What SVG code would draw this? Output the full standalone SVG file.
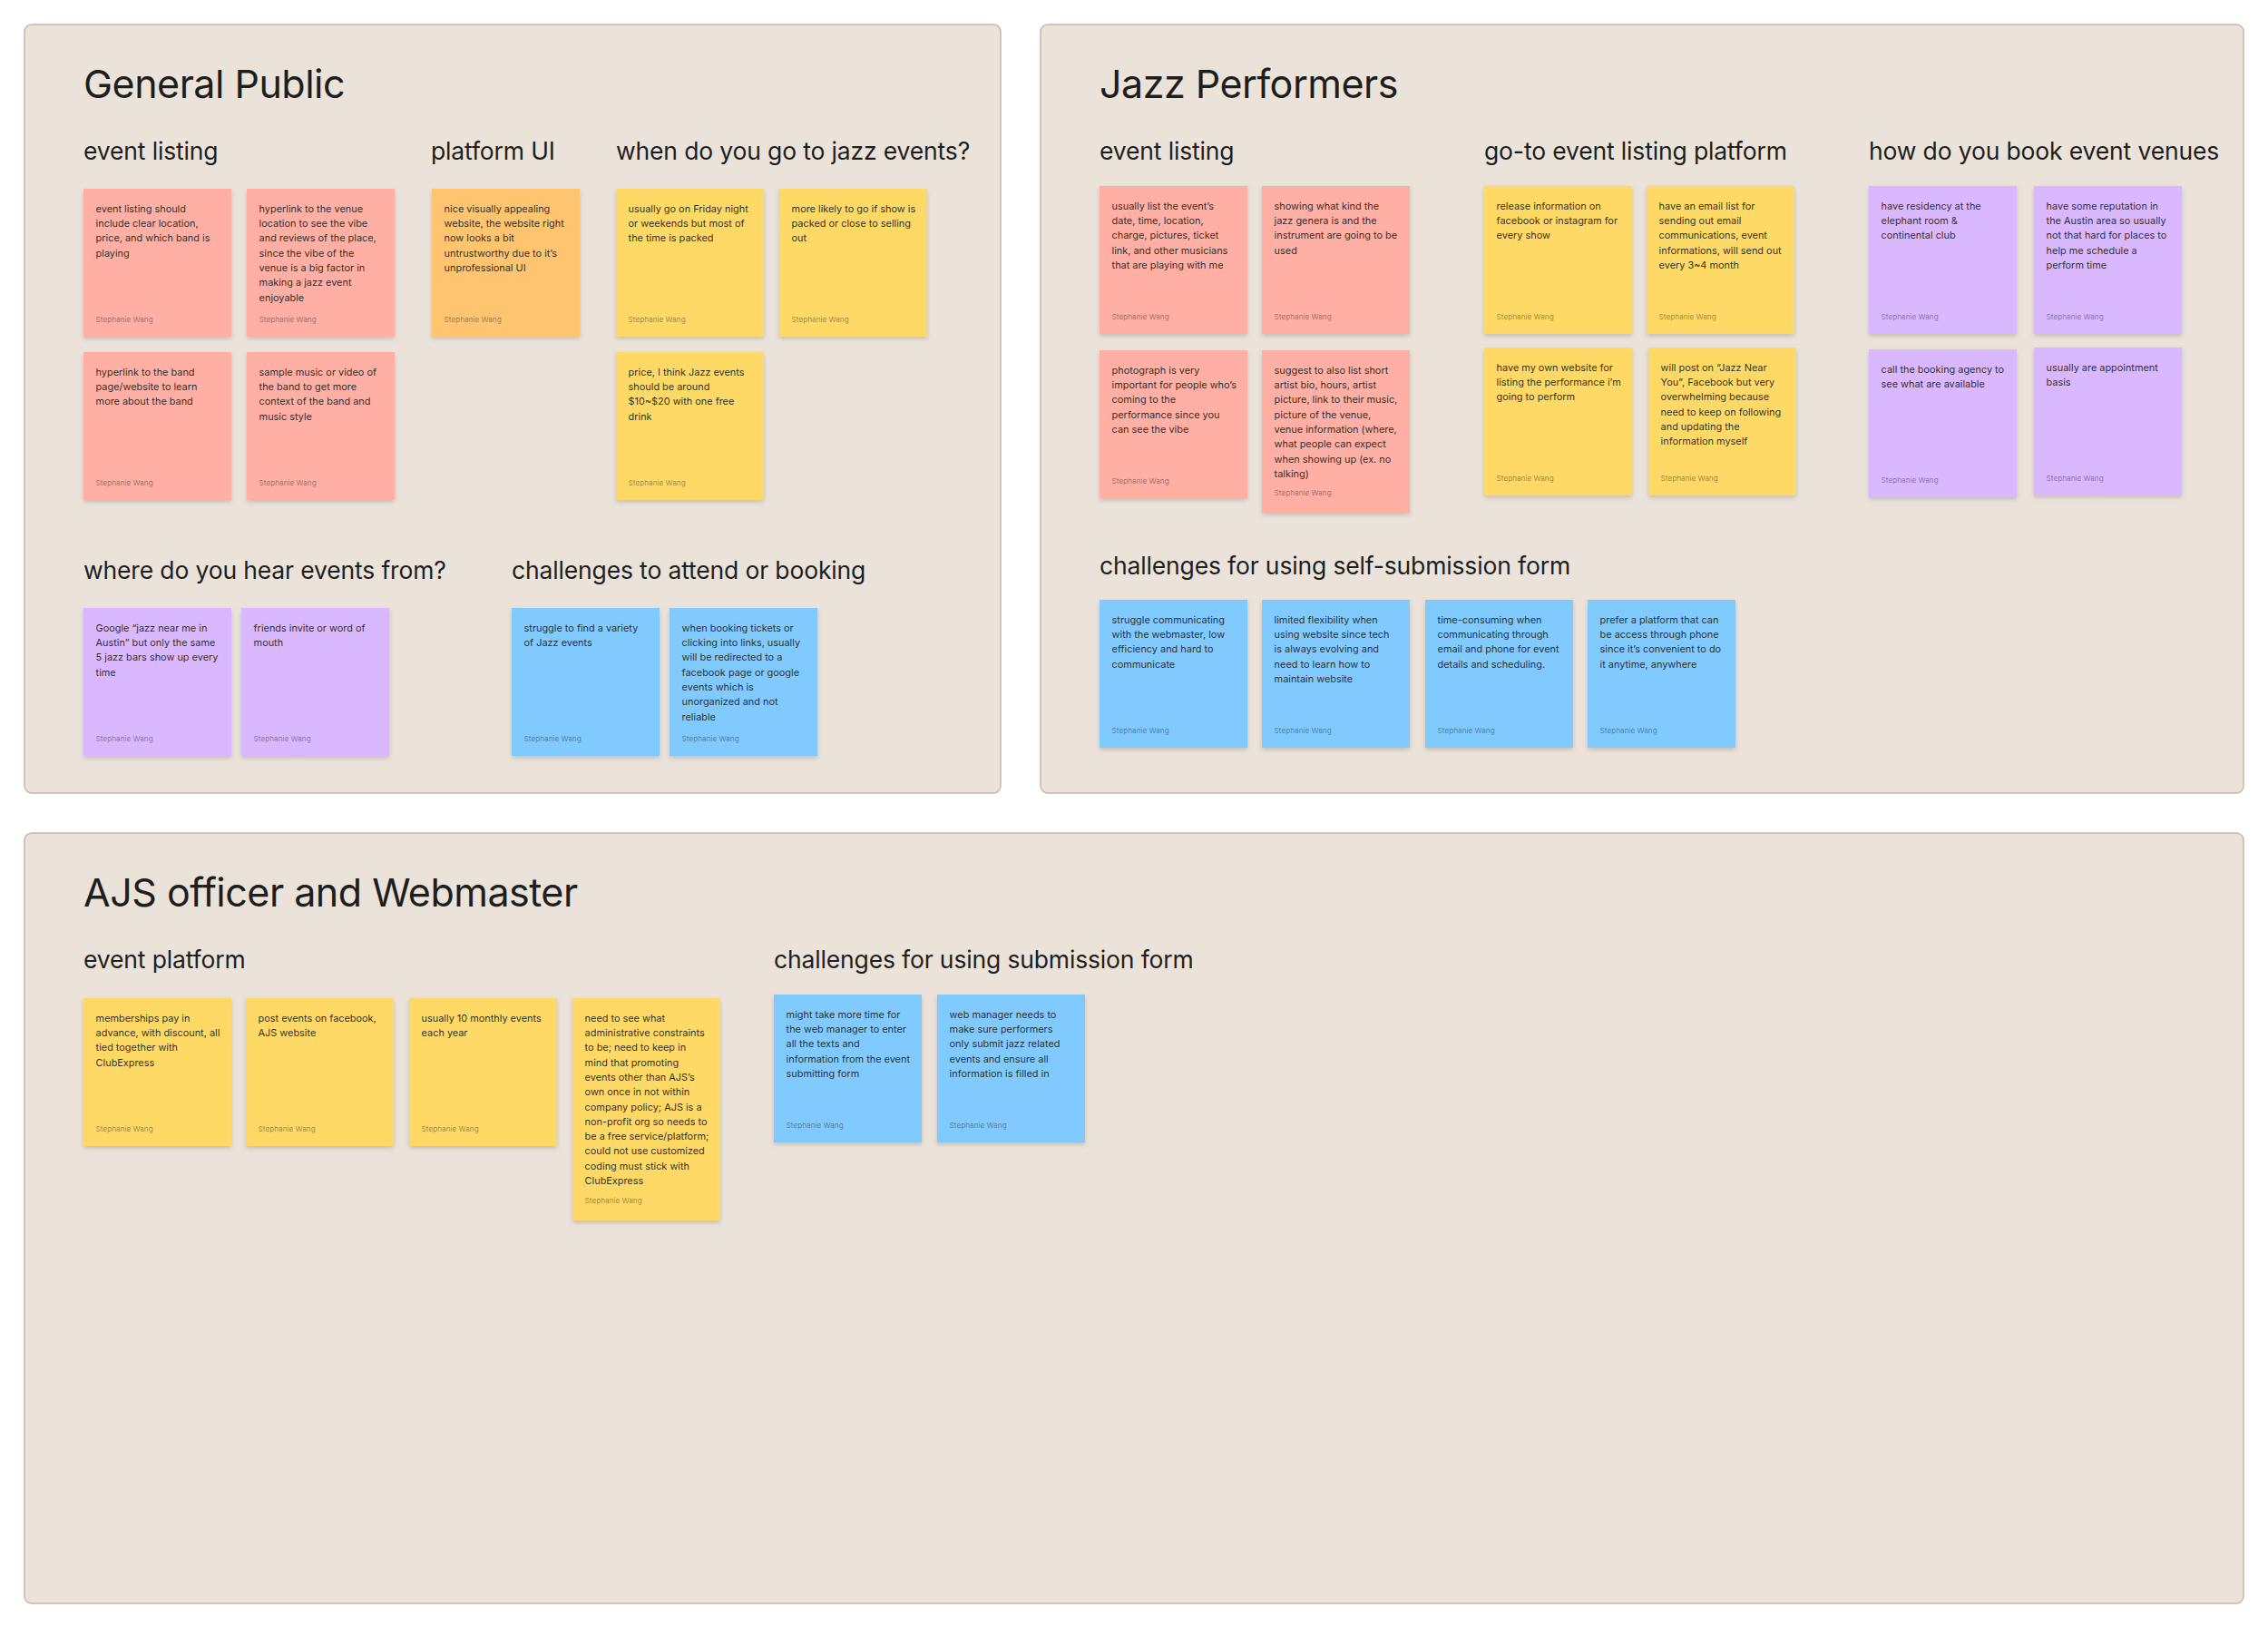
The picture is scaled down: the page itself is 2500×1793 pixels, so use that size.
<svg xmlns="http://www.w3.org/2000/svg" width="2500" height="1793" viewBox="0 0 2500 1793">
<defs>
<filter id="sh" x="-10%" y="-10%" width="120%" height="130%">
<feDropShadow dx="0" dy="2.5" stdDeviation="2.5" flood-color="#000" flood-opacity="0.16"/>
</filter>
<style>
.frame{fill:#EBE3DA;stroke:#C9B7A2;stroke-width:1.5}
text{font-family:Inter,"Noto Sans","Liberation Sans",sans-serif}
.title{font-size:43px;letter-spacing:-0.5px;fill:#1E1E1E}
.sub{font-size:26.5px;letter-spacing:-0.15px;fill:#1E1E1E}
.s{filter:url(#sh)}
.red{fill:#FFAFA3}.org{fill:#FFC470}.yel{fill:#FFD966}.pur{fill:#D9B8FF}.blu{fill:#80CAFF}
.t{font-size:10.9px;fill:#1E1E1E;fill-opacity:0.95}
.au{font-size:8.2px;fill:#000;fill-opacity:0.4}
</style>
</defs>
<rect width="2500" height="1793" fill="#FFFFFF"/>

<g id="section-general-public">
<rect class="frame" x="27" y="27" width="1076" height="847" rx="8"/>
<text class="title" x="92" y="108">General Public</text>
<text class="sub" x="92" y="176">event listing</text>
<text class="sub" x="475" y="176">platform UI</text>
<text class="sub" x="679" y="176">when do you go to jazz events?</text>
<text class="sub" x="92" y="638">where do you hear events from?</text>
<text class="sub" x="564" y="638">challenges to attend or booking</text>

<g id="gp-el-1" transform="translate(92,208)"><rect class="s red" width="163" height="163"/>
<text class="t" y="25.7"><tspan x="13.6">event listing should</tspan><tspan x="13.6" dy="16.3">include clear location,</tspan><tspan x="13.6" dy="16.3">price, and which band is</tspan><tspan x="13.6" dy="16.3">playing</tspan></text>
<text class="au" x="13.6" y="146.7">Stephanie Wang</text></g>
<g id="gp-el-2" transform="translate(272,208)"><rect class="s red" width="163" height="163"/>
<text class="t" y="25.7"><tspan x="13.6">hyperlink to the venue</tspan><tspan x="13.6" dy="16.3">location to see the vibe</tspan><tspan x="13.6" dy="16.3">and reviews of the place,</tspan><tspan x="13.6" dy="16.3">since the vibe of the</tspan><tspan x="13.6" dy="16.3">venue is a big factor in</tspan><tspan x="13.6" dy="16.3">making a jazz event</tspan><tspan x="13.6" dy="16.3">enjoyable</tspan></text>
<text class="au" x="13.6" y="146.7">Stephanie Wang</text></g>
<g id="gp-el-3" transform="translate(92,388)"><rect class="s red" width="163" height="163"/>
<text class="t" y="25.7"><tspan x="13.6">hyperlink to the band</tspan><tspan x="13.6" dy="16.3">page/website to learn</tspan><tspan x="13.6" dy="16.3">more about the band</tspan></text>
<text class="au" x="13.6" y="146.7">Stephanie Wang</text></g>
<g id="gp-el-4" transform="translate(272,388)"><rect class="s red" width="163" height="163"/>
<text class="t" y="25.7"><tspan x="13.6">sample music or video of</tspan><tspan x="13.6" dy="16.3">the band to get more</tspan><tspan x="13.6" dy="16.3">context of the band and</tspan><tspan x="13.6" dy="16.3">music style</tspan></text>
<text class="au" x="13.6" y="146.7">Stephanie Wang</text></g>

<g id="gp-ui-1" transform="translate(476,208)"><rect class="s org" width="163" height="163"/>
<text class="t" y="25.7"><tspan x="13.6">nice visually appealing</tspan><tspan x="13.6" dy="16.3">website, the website right</tspan><tspan x="13.6" dy="16.3">now looks a bit</tspan><tspan x="13.6" dy="16.3">untrustworthy due to it’s</tspan><tspan x="13.6" dy="16.3">unprofessional UI</tspan></text>
<text class="au" x="13.6" y="146.7">Stephanie Wang</text></g>

<g id="gp-when-1" transform="translate(679,208)"><rect class="s yel" width="163" height="163"/>
<text class="t" y="25.7"><tspan x="13.6">usually go on Friday night</tspan><tspan x="13.6" dy="16.3">or weekends but most of</tspan><tspan x="13.6" dy="16.3">the time is packed</tspan></text>
<text class="au" x="13.6" y="146.7">Stephanie Wang</text></g>
<g id="gp-when-2" transform="translate(859,208)"><rect class="s yel" width="163" height="163"/>
<text class="t" y="25.7"><tspan x="13.6">more likely to go if show is</tspan><tspan x="13.6" dy="16.3">packed or close to selling</tspan><tspan x="13.6" dy="16.3">out</tspan></text>
<text class="au" x="13.6" y="146.7">Stephanie Wang</text></g>
<g id="gp-when-3" transform="translate(679,388)"><rect class="s yel" width="163" height="163"/>
<text class="t" y="25.7"><tspan x="13.6">price, I think Jazz events</tspan><tspan x="13.6" dy="16.3">should be around</tspan><tspan x="13.6" dy="16.3">$10~$20 with one free</tspan><tspan x="13.6" dy="16.3">drink</tspan></text>
<text class="au" x="13.6" y="146.7">Stephanie Wang</text></g>

<g id="gp-where-1" transform="translate(92,670)"><rect class="s pur" width="163" height="163"/>
<text class="t" y="25.7"><tspan x="13.6">Google “jazz near me in</tspan><tspan x="13.6" dy="16.3">Austin” but only the same</tspan><tspan x="13.6" dy="16.3">5 jazz bars show up every</tspan><tspan x="13.6" dy="16.3">time</tspan></text>
<text class="au" x="13.6" y="146.7">Stephanie Wang</text></g>
<g id="gp-where-2" transform="translate(266,670)"><rect class="s pur" width="163" height="163"/>
<text class="t" y="25.7"><tspan x="13.6">friends invite or word of</tspan><tspan x="13.6" dy="16.3">mouth</tspan></text>
<text class="au" x="13.6" y="146.7">Stephanie Wang</text></g>

<g id="gp-ch-1" transform="translate(564,670)"><rect class="s blu" width="163" height="163"/>
<text class="t" y="25.7"><tspan x="13.6">struggle to find a variety</tspan><tspan x="13.6" dy="16.3">of Jazz events</tspan></text>
<text class="au" x="13.6" y="146.7">Stephanie Wang</text></g>
<g id="gp-ch-2" transform="translate(738,670)"><rect class="s blu" width="163" height="163"/>
<text class="t" y="25.7"><tspan x="13.6">when booking tickets or</tspan><tspan x="13.6" dy="16.3">clicking into links, usually</tspan><tspan x="13.6" dy="16.3">will be redirected to a</tspan><tspan x="13.6" dy="16.3">facebook page or google</tspan><tspan x="13.6" dy="16.3">events which is</tspan><tspan x="13.6" dy="16.3">unorganized and not</tspan><tspan x="13.6" dy="16.3">reliable</tspan></text>
<text class="au" x="13.6" y="146.7">Stephanie Wang</text></g>
</g>

<g id="section-jazz-performers">
<rect class="frame" x="1147" y="27" width="1326" height="847" rx="8"/>
<text class="title" x="1212" y="108">Jazz Performers</text>
<text class="sub" x="1212" y="176">event listing</text>
<text class="sub" x="1636" y="176">go-to event listing platform</text>
<text class="sub" x="2060" y="176">how do you book event venues</text>
<text class="sub" x="1212" y="633">challenges for using self-submission form</text>

<g id="jp-el-1" transform="translate(1212,205)"><rect class="s red" width="163" height="163"/>
<text class="t" y="25.7"><tspan x="13.6">usually list the event’s</tspan><tspan x="13.6" dy="16.3">date, time, location,</tspan><tspan x="13.6" dy="16.3">charge, pictures, ticket</tspan><tspan x="13.6" dy="16.3">link, and other musicians</tspan><tspan x="13.6" dy="16.3">that are playing with me</tspan></text>
<text class="au" x="13.6" y="146.7">Stephanie Wang</text></g>
<g id="jp-el-2" transform="translate(1391,205)"><rect class="s red" width="163" height="163"/>
<text class="t" y="25.7"><tspan x="13.6">showing what kind the</tspan><tspan x="13.6" dy="16.3">jazz genera is and the</tspan><tspan x="13.6" dy="16.3">instrument are going to be</tspan><tspan x="13.6" dy="16.3">used</tspan></text>
<text class="au" x="13.6" y="146.7">Stephanie Wang</text></g>
<g id="jp-el-3" transform="translate(1212,386)"><rect class="s red" width="163" height="163"/>
<text class="t" y="25.7"><tspan x="13.6">photograph is very</tspan><tspan x="13.6" dy="16.3">important for people who’s</tspan><tspan x="13.6" dy="16.3">coming to the</tspan><tspan x="13.6" dy="16.3">performance since you</tspan><tspan x="13.6" dy="16.3">can see the vibe</tspan></text>
<text class="au" x="13.6" y="146.7">Stephanie Wang</text></g>
<g id="jp-el-4" transform="translate(1391,386)"><rect class="s red" width="163" height="179"/>
<text class="t" y="25.7"><tspan x="13.6">suggest to also list short</tspan><tspan x="13.6" dy="16.3">artist bio, hours, artist</tspan><tspan x="13.6" dy="16.3">picture, link to their music,</tspan><tspan x="13.6" dy="16.3">picture of the venue,</tspan><tspan x="13.6" dy="16.3">venue information (where,</tspan><tspan x="13.6" dy="16.3">what people can expect</tspan><tspan x="13.6" dy="16.3">when showing up (ex. no</tspan><tspan x="13.6" dy="16.3">talking)</tspan></text>
<text class="au" x="13.6" y="160">Stephanie Wang</text></g>

<g id="jp-pl-1" transform="translate(1636,205)"><rect class="s yel" width="163" height="163"/>
<text class="t" y="25.7"><tspan x="13.6">release information on</tspan><tspan x="13.6" dy="16.3">facebook or instagram for</tspan><tspan x="13.6" dy="16.3">every show</tspan></text>
<text class="au" x="13.6" y="146.7">Stephanie Wang</text></g>
<g id="jp-pl-2" transform="translate(1815,205)"><rect class="s yel" width="163" height="163"/>
<text class="t" y="25.7"><tspan x="13.6">have an email list for</tspan><tspan x="13.6" dy="16.3">sending out email</tspan><tspan x="13.6" dy="16.3">communications, event</tspan><tspan x="13.6" dy="16.3">informations, will send out</tspan><tspan x="13.6" dy="16.3">every 3~4 month</tspan></text>
<text class="au" x="13.6" y="146.7">Stephanie Wang</text></g>
<g id="jp-pl-3" transform="translate(1636,383)"><rect class="s yel" width="163" height="163"/>
<text class="t" y="25.7"><tspan x="13.6">have my own website for</tspan><tspan x="13.6" dy="16.3">listing the performance i’m</tspan><tspan x="13.6" dy="16.3">going to perform</tspan></text>
<text class="au" x="13.6" y="146.7">Stephanie Wang</text></g>
<g id="jp-pl-4" transform="translate(1817,383)"><rect class="s yel" width="163" height="163"/>
<text class="t" y="25.7"><tspan x="13.6">will post on “Jazz Near</tspan><tspan x="13.6" dy="16.3">You”, Facebook but very</tspan><tspan x="13.6" dy="16.3">overwhelming because</tspan><tspan x="13.6" dy="16.3">need to keep on following</tspan><tspan x="13.6" dy="16.3">and updating the</tspan><tspan x="13.6" dy="16.3">information myself</tspan></text>
<text class="au" x="13.6" y="146.7">Stephanie Wang</text></g>

<g id="jp-bk-1" transform="translate(2060,205)"><rect class="s pur" width="163" height="163"/>
<text class="t" y="25.7"><tspan x="13.6">have residency at the</tspan><tspan x="13.6" dy="16.3">elephant room &amp;</tspan><tspan x="13.6" dy="16.3">continental club</tspan></text>
<text class="au" x="13.6" y="146.7">Stephanie Wang</text></g>
<g id="jp-bk-2" transform="translate(2242,205)"><rect class="s pur" width="163" height="163"/>
<text class="t" y="25.7"><tspan x="13.6">have some reputation in</tspan><tspan x="13.6" dy="16.3">the Austin area so usually</tspan><tspan x="13.6" dy="16.3">not that hard for places to</tspan><tspan x="13.6" dy="16.3">help me schedule a</tspan><tspan x="13.6" dy="16.3">perform time</tspan></text>
<text class="au" x="13.6" y="146.7">Stephanie Wang</text></g>
<g id="jp-bk-3" transform="translate(2060,385)"><rect class="s pur" width="163" height="163"/>
<text class="t" y="25.7"><tspan x="13.6">call the booking agency to</tspan><tspan x="13.6" dy="16.3">see what are available</tspan></text>
<text class="au" x="13.6" y="146.7">Stephanie Wang</text></g>
<g id="jp-bk-4" transform="translate(2242,383)"><rect class="s pur" width="163" height="163"/>
<text class="t" y="25.7"><tspan x="13.6">usually are appointment</tspan><tspan x="13.6" dy="16.3">basis</tspan></text>
<text class="au" x="13.6" y="146.7">Stephanie Wang</text></g>

<g id="jp-ch-1" transform="translate(1212,661)"><rect class="s blu" width="163" height="163"/>
<text class="t" y="25.7"><tspan x="13.6">struggle communicating</tspan><tspan x="13.6" dy="16.3">with the webmaster, low</tspan><tspan x="13.6" dy="16.3">efficiency and hard to</tspan><tspan x="13.6" dy="16.3">communicate</tspan></text>
<text class="au" x="13.6" y="146.7">Stephanie Wang</text></g>
<g id="jp-ch-2" transform="translate(1391,661)"><rect class="s blu" width="163" height="163"/>
<text class="t" y="25.7"><tspan x="13.6">limited flexibility when</tspan><tspan x="13.6" dy="16.3">using website since tech</tspan><tspan x="13.6" dy="16.3">is always evolving and</tspan><tspan x="13.6" dy="16.3">need to learn how to</tspan><tspan x="13.6" dy="16.3">maintain website</tspan></text>
<text class="au" x="13.6" y="146.7">Stephanie Wang</text></g>
<g id="jp-ch-3" transform="translate(1571,661)"><rect class="s blu" width="163" height="163"/>
<text class="t" y="25.7"><tspan x="13.6">time-consuming when</tspan><tspan x="13.6" dy="16.3">communicating through</tspan><tspan x="13.6" dy="16.3">email and phone for event</tspan><tspan x="13.6" dy="16.3">details and scheduling.</tspan></text>
<text class="au" x="13.6" y="146.7">Stephanie Wang</text></g>
<g id="jp-ch-4" transform="translate(1750,661)"><rect class="s blu" width="163" height="163"/>
<text class="t" y="25.7"><tspan x="13.6">prefer a platform that can</tspan><tspan x="13.6" dy="16.3">be access through phone</tspan><tspan x="13.6" dy="16.3">since it’s convenient to do</tspan><tspan x="13.6" dy="16.3">it anytime, anywhere</tspan></text>
<text class="au" x="13.6" y="146.7">Stephanie Wang</text></g>
</g>

<g id="section-ajs">
<rect class="frame" x="27" y="918" width="2446" height="849" rx="8"/>
<text class="title" x="92" y="999">AJS officer and Webmaster</text>
<text class="sub" x="92" y="1067">event platform</text>
<text class="sub" x="853" y="1067">challenges for using submission form</text>

<g id="ajs-pl-1" transform="translate(92,1100)"><rect class="s yel" width="163" height="163"/>
<text class="t" y="25.7"><tspan x="13.6">memberships pay in</tspan><tspan x="13.6" dy="16.3">advance, with discount, all</tspan><tspan x="13.6" dy="16.3">tied together with</tspan><tspan x="13.6" dy="16.3">ClubExpress</tspan></text>
<text class="au" x="13.6" y="146.7">Stephanie Wang</text></g>
<g id="ajs-pl-2" transform="translate(271,1100)"><rect class="s yel" width="163" height="163"/>
<text class="t" y="25.7"><tspan x="13.6">post events on facebook,</tspan><tspan x="13.6" dy="16.3">AJS website</tspan></text>
<text class="au" x="13.6" y="146.7">Stephanie Wang</text></g>
<g id="ajs-pl-3" transform="translate(451,1100)"><rect class="s yel" width="163" height="163"/>
<text class="t" y="25.7"><tspan x="13.6">usually 10 monthly events</tspan><tspan x="13.6" dy="16.3">each year</tspan></text>
<text class="au" x="13.6" y="146.7">Stephanie Wang</text></g>
<g id="ajs-pl-4" transform="translate(631,1100)"><rect class="s yel" width="163" height="245"/>
<text class="t" y="25.7"><tspan x="13.6">need to see what</tspan><tspan x="13.6" dy="16.3">administrative constraints</tspan><tspan x="13.6" dy="16.3">to be; need to keep in</tspan><tspan x="13.6" dy="16.3">mind that promoting</tspan><tspan x="13.6" dy="16.3">events other than AJS’s</tspan><tspan x="13.6" dy="16.3">own once in not within</tspan><tspan x="13.6" dy="16.3">company policy; AJS is a</tspan><tspan x="13.6" dy="16.3">non-profit org so needs to</tspan><tspan x="13.6" dy="16.3">be a free service/platform;</tspan><tspan x="13.6" dy="16.3">could not use customized</tspan><tspan x="13.6" dy="16.3">coding must stick with</tspan><tspan x="13.6" dy="16.3">ClubExpress</tspan></text>
<text class="au" x="13.6" y="225.7">Stephanie Wang</text></g>

<g id="ajs-ch-1" transform="translate(853,1096)"><rect class="s blu" width="163" height="163"/>
<text class="t" y="25.7"><tspan x="13.6">might take more time for</tspan><tspan x="13.6" dy="16.3">the web manager to enter</tspan><tspan x="13.6" dy="16.3">all the texts and</tspan><tspan x="13.6" dy="16.3">information from the event</tspan><tspan x="13.6" dy="16.3">submitting form</tspan></text>
<text class="au" x="13.6" y="146.7">Stephanie Wang</text></g>
<g id="ajs-ch-2" transform="translate(1033,1096)"><rect class="s blu" width="163" height="163"/>
<text class="t" y="25.7"><tspan x="13.6">web manager needs to</tspan><tspan x="13.6" dy="16.3">make sure performers</tspan><tspan x="13.6" dy="16.3">only submit jazz related</tspan><tspan x="13.6" dy="16.3">events and ensure all</tspan><tspan x="13.6" dy="16.3">information is filled in</tspan></text>
<text class="au" x="13.6" y="146.7">Stephanie Wang</text></g>
</g>

<g id="connectors"/>
</svg>
